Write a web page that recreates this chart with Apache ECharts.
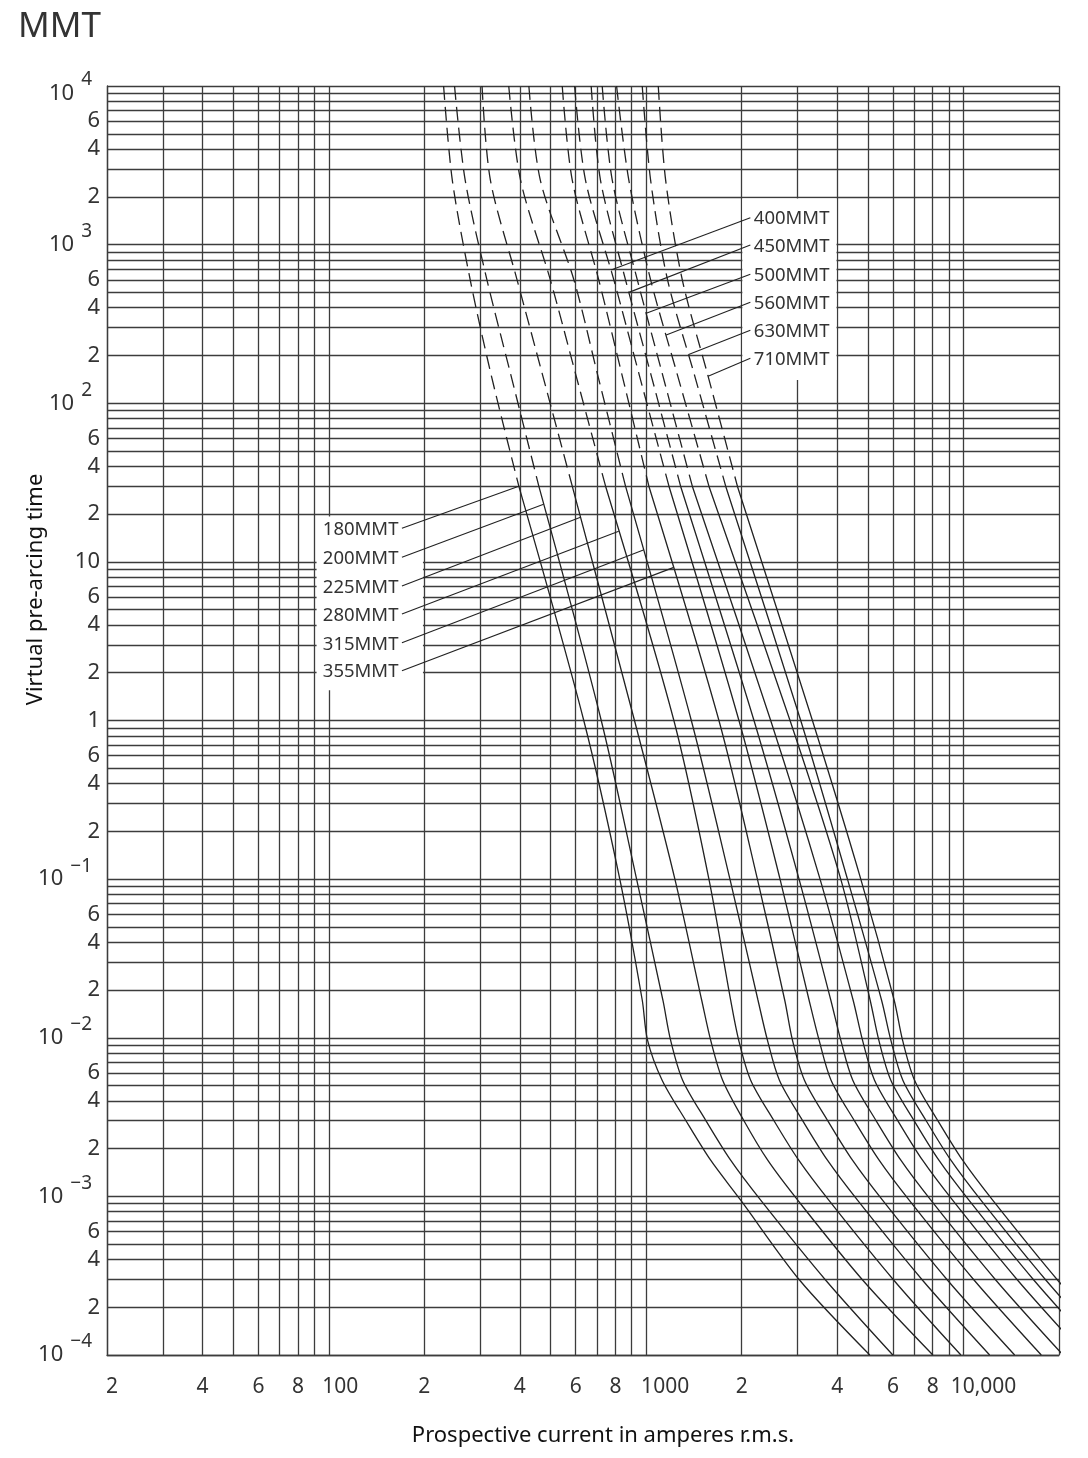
<!DOCTYPE html>
<html>
<head>
<meta charset="utf-8">
<title>MMT</title>
<script src="https://cdn.jsdelivr.net/npm/echarts@6/dist/echarts.min.js"></script>
<style>
  html, body { margin: 0; padding: 0; background: #fff; }
  #chart { width: 1088px; height: 1458px; }
</style>
</head>
<body>
<div id="chart"></div>
<script>
const times = [10000, 2550, 600, 150, 30, 1, 0.1, 0.0173, 0.00966, 0.0054, 0.00302, 0.00169, 0.000946, 0.000296, 0.0001];
const dashedUntil = 4; // curves are dashed above 30 s

const ratings = ['180MMT', '200MMT', '225MMT', '280MMT', '315MMT', '355MMT',
                 '400MMT', '450MMT', '500MMT', '560MMT', '630MMT', '710MMT'];

// prospective current (A) at each time level
const i180 = [230, 245, 279, 325, 397, 636, 826, 972, 1010, 1123, 1332, 1597, 1986, 3048, 5068];
const i200 = [249, 269, 315, 375, 459, 722, 933, 1129, 1194, 1303, 1540, 1846, 2296, 3681, 5989];
const i225 = [304, 323, 392, 472, 585, 919, 1232, 1496, 1597, 1742, 2029, 2416, 3004, 4817, 8009];
const i280 = [369, 402, 499, 601, 745, 1223, 1577, 1846, 1957, 2135, 2523, 3026, 3763, 6033, 9815];
const i315 = [427, 464, 592, 704, 861, 1388, 1837, 2251, 2411, 2630, 3108, 3727, 4635, 7431, 12090];
const i355 = [544, 585, 709, 840, 1020, 1696, 2242, 2733, 2891, 3154, 3727, 4469, 5558, 8911, 14497];
const i400 = [595, 644, 791, 952, 1180, 1961, 2642, 3261, 3507, 3826, 4522, 5422, 6742, 10810, 17587];
const i450 = [671, 718, 861, 1037, 1284, 2187, 3033, 3818, 4105, 4479, 5294, 6348, 7893, 12656, 20590];
const i500 = [727, 782, 938, 1128, 1398, 2469, 3532, 4489, 4806, 5244, 6197, 7431, 9241, 14817, 24105];
const i560 = [807, 882, 1033, 1256, 1577, 2841, 4105, 5079, 5410, 5903, 6976, 8365, 10402, 16679, 27135];
const i630 = [972, 1033, 1168, 1421, 1781, 3070, 4310, 5517, 5903, 6441, 7612, 9127, 11348, 18198, 29606];
const i710 = [1092, 1152, 1300, 1565, 1939, 3342, 4747, 6046, 6427, 7012, 8287, 9937, 12360, 19813, 32233];
const currents = [i180, i200, i225, i280, i315, i355, i400, i450, i500, i560, i630, i710];

// where each label's leader touches its curve (s)
const tipTimes = [30, 23.1, 19.1, 15.6, 11.9, 9.2, 692, 500, 369, 269, 203, 148];
// label anchors: lower group sits left of the curves, upper group right
const lowLabelCurrent = 170;
const lowLabelTimes = [16.3, 10.7, 7.04, 4.69, 3.09, 2.06];
const highLabelCurrent = 2130;
const highLabelTimes = [1478, 994, 650, 433, 289, 192];

// axis ticks and grid
const xLabelValues = [20, 40, 60, 80, 100, 200, 400, 600, 800, 1000, 2000, 4000, 6000, 8000, 10000];
const gridMantissas = [1, 2, 3, 4, 5, 6, 7, 8, 9];
const yLabelMantissas = [1, 2, 4, 6];
const xDecades = [1, 2, 3];
const yDecades = [-4, -3, -2, -1, 0, 1, 2, 3];

const xGrid = [];
xDecades.forEach(function (d) {
  gridMantissas.forEach(function (m) { if (m >= 2 || d > 1) xGrid.push(m * Math.pow(10, d)); });
});
xGrid.push(10000, 20000);
const yGrid = [];
const yLabelValues = [];
yDecades.forEach(function (d) {
  gridMantissas.forEach(function (m) { yGrid.push(m * Math.pow(10, d)); });
  yLabelMantissas.forEach(function (m) { yLabelValues.push(m * Math.pow(10, d)); });
});
yGrid.push(10000);
yLabelValues.push(10000);

const FONT = '"Noto Sans", "DejaVu Sans", sans-serif';
const INK = '#222';
const TEXT = '#333';
const GRID = '#3c3c3c';

// current on a curve at time t, interpolated in log-log space
function currentAt(cur, t) {
  const lt = Math.log10(t);
  for (let i = 0; i < times.length - 1; i++) {
    const a = Math.log10(times[i]), b = Math.log10(times[i + 1]);
    if (lt <= a && lt >= b) {
      const f = (lt - a) / (b - a);
      return Math.pow(10, Math.log10(cur[i]) + f * (Math.log10(cur[i + 1]) - Math.log10(cur[i])));
    }
  }
  return cur[cur.length - 1];
}

function yLabel(v) {
  const lg = Math.log10(v);
  const e = Math.round(lg);
  if (Math.abs(lg - e) < 1e-6) {
    if (e === 0) return '1';
    if (e === 1) return '10';
    if (e === 4) return '{b4|10}{s4|4}';
    return '{b|10}{s|' + (e < 0 ? '\u2212' + (-e) : e) + '}';
  }
  return String(Math.round(v / Math.pow(10, Math.floor(lg + 1e-9))));
}

function xLabel(v) {
  if (v === 100) return '{p100|100}';
  if (v === 1000) return '{p1000|1000}';
  if (v === 10000) return '{p10k|10,000}';
  const d = String(Math.round(v / Math.pow(10, Math.floor(Math.log10(v) + 1e-9))));
  return v === 20 ? '{p20|' + d + '}' : d;
}

const series = [];
ratings.forEach(function (name, k) {
  const cur = currents[k];
  const pts = times.map(function (t, i) { return [cur[i], t]; });
  const low = k < 6;
  const tip = [currentAt(cur, tipTimes[k]), tipTimes[k]];
  const anchor = low ? [lowLabelCurrent, lowLabelTimes[k]] : [highLabelCurrent, highLabelTimes[k - 6]];

  const dashed = {
    name: name, type: 'line', data: pts.slice(0, dashedUntil + 1),
    symbol: 'none', smooth: 0.3, silent: true, animation: false,
    lineStyle: { color: INK, width: 1.3, type: [14, 7] }
  };
  const solid = {
    name: name, type: 'line', data: pts.slice(dashedUntil),
    symbol: 'none', smooth: 0.3, silent: true, animation: false,
    lineStyle: { color: INK, width: 1.3, type: 'solid' }
  };
  const target = low ? solid : dashed;
  target.markLine = {
    silent: true, symbol: 'none', animation: false,
    label: { show: false },
    lineStyle: { color: INK, width: 1.1, type: 'solid' },
    data: [[{ coord: anchor }, { coord: tip }]]
  };
  target.markPoint = {
    silent: true, symbol: 'circle', symbolSize: 1, animation: false,
    itemStyle: { color: 'rgba(0,0,0,0)' },
    label: {
      show: true, position: low ? 'left' : 'right', distance: 3, offset: [0, 1.5],
      formatter: name, color: TEXT, fontSize: 18.5, fontFamily: FONT
    },
    data: [{ coord: anchor }]
  };
  if (k === 0) {
    // white boxes behind the two label groups
    dashed.markArea = {
      silent: true, animation: false,
      itemStyle: { color: '#fff', opacity: 1 },
      data: [
        [{ coord: [91.5, 19.3] }, { coord: [198, 1.55] }],
        [{ coord: [2010, 1950] }, { coord: [3980, 140] }]
      ]
    };
  }
  series.push(dashed, solid);
});

const chart = echarts.init(document.getElementById('chart'));
chart.setOption({
  animation: false,
  backgroundColor: '#fff',
  title: {
    text: 'MMT', left: 13, top: 5,
    textStyle: { fontSize: 35, fontWeight: 'normal', color: TEXT, fontFamily: FONT }
  },
  grid: { left: 107, right: 29, top: 86, bottom: 103, outerBoundsMode: 'none' },
  xAxis: {
    type: 'log', logBase: 10, min: 20, max: 20000,
    name: 'Prospective current in amperes r.m.s.',
    nameLocation: 'middle', nameGap: 70, nameMoveOverlap: false,
    nameTextStyle: { fontSize: 22, color: '#111', fontFamily: FONT, padding: [0, 0, 0, 40] },
    axisLine: { show: true, lineStyle: { color: GRID, width: 1.3 } },
    axisTick: { show: false, customValues: xGrid },
    splitLine: { show: true, lineStyle: { color: GRID, width: 1.3 } },
    axisLabel: {
      customValues: xLabelValues, formatter: xLabel, margin: 22,
      fontSize: 21, color: TEXT, fontFamily: FONT,
      rich: {
        p20: { fontSize: 21, color: TEXT, fontFamily: FONT, padding: [0, 0, 0, 10] },
        p100: { fontSize: 21, color: TEXT, fontFamily: FONT, padding: [0, 0, 0, 23] },
        p1000: { fontSize: 21, color: TEXT, fontFamily: FONT, padding: [0, 0, 0, 38] },
        p10k: { fontSize: 21, color: TEXT, fontFamily: FONT, padding: [0, 0, 0, 40] }
      }
    }
  },
  yAxis: {
    type: 'log', logBase: 10, min: 0.0001, max: 10000,
    name: 'Virtual pre-arcing time',
    nameLocation: 'middle', nameGap: 60, nameRotate: 90, nameMoveOverlap: false,
    nameTextStyle: { fontSize: 22, color: '#111', fontFamily: FONT, padding: [0, 0, 0, 262] },
    axisLine: { show: true, lineStyle: { color: GRID, width: 1.3 } },
    axisTick: { show: false, customValues: yGrid },
    splitLine: { show: true, lineStyle: { color: GRID, width: 1.3 } },
    axisLabel: {
      customValues: yLabelValues, formatter: yLabel, margin: 7,
      fontSize: 22, color: TEXT, fontFamily: FONT,
      rich: {
        b: { fontSize: 22, color: TEXT, fontFamily: FONT },
        s: { fontSize: 19, color: TEXT, fontFamily: FONT, padding: [0, 8, 26, 7] },
        b4: { fontSize: 22, color: TEXT, fontFamily: FONT, padding: [16, 0, 0, 0] },
        s4: { fontSize: 19, color: TEXT, fontFamily: FONT, padding: [0, 8, 12, 7] }
      }
    }
  },
  series: series
});
</script>
</body>
</html>
